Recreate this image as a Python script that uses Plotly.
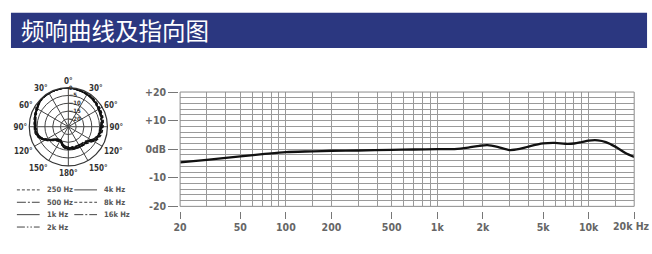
import math
import plotly.graph_objects as go

W, H = 652, 254

# ---------------- data ----------------
title_text = "频响曲线及指向图"

freq_hz = [20, 30, 50, 70, 100, 150, 200, 300, 500, 700, 1000, 1300, 1600, 1900,
           2150, 2500, 3000, 3500, 4000, 5000, 6000, 7000, 8000, 9000, 10000,
           11500, 13000, 15000, 17500, 20000]
response_db = [-4.6, -3.7, -2.5, -1.75, -1.0, -0.75, -0.55, -0.45, -0.25, -0.1, 0.0,
               0.05, 0.55, 1.2, 1.4, 0.8, -0.3, 0.1, 0.9, 2.0, 2.2, 1.9, 2.0, 2.5,
               3.0, 3.1, 2.5, 0.9, -1.3, -2.7]

x_tick_vals = [20, 50, 100, 200, 500, 1000, 2000, 5000, 10000, 20000]
x_tick_text = ["20", "50", "100", "200", "500", "1k", "2k", "5k", "10k", ""]
x_last_label = "20k Hz"
x_minor_vals = [30, 40, 60, 70, 80, 90, 150, 300, 400, 600, 700, 800, 900,
                1500, 3000, 4000, 6000, 7000, 8000, 9000, 15000]
y_tick_vals = [-20, -10, 0, 10, 20]
y_tick_text = ["-20", "-10", "0dB", "+10", "+20"]

polar_angles = [0, 10, 22, 40, 58, 74, 90, 104, 115, 129, 146, 164, 184, 197,
                205, 220, 237, 249, 259, 270, 286, 299, 312, 325, 341, 360]
polar_names = ["250 Hz", "500 Hz", "1k Hz", "2k Hz", "4k Hz", "8k Hz", "16k Hz"]
polar_r_250 = [0, -0.4, -0.6, -0.9, -1.7, -2.3, -3.0, -3.8, -5.2, -8.8, -10.0, -10.4,
               -10.8, -12.0, -13.8, -13.4, -8.8, -5.0, -3.5, -3.3, -2.5, -1.5, -0.4,
               -0.1, -0.2, 0]
polar_r_500 = [0, -0.5, -0.7, -1.1, -2.0, -2.6, -3.4, -4.2, -5.6, -9.1, -10.2, -10.5,
               -11.0, -12.2, -14.1, -13.7, -9.1, -5.2, -3.7, -3.5, -2.7, -1.7, -0.5,
               -0.2, -0.2, 0]
polar_r_1k = [0, -0.5, -0.8, -1.2, -2.2, -2.8, -3.7, -4.4, -5.9, -9.4, -10.3, -10.6,
              -11.1, -12.3, -14.3, -13.9, -9.3, -5.4, -3.9, -3.7, -2.8, -1.8, -0.5,
              -0.2, -0.25, 0]
polar_r_2k = [0, -0.6, -0.9, -1.3, -2.4, -3.0, -3.9, -4.7, -6.2, -9.8, -10.7, -11.0,
              -11.4, -12.7, -14.6, -14.2, -9.7, -5.7, -4.1, -3.9, -3.0, -2.0, -0.7,
              -0.3, -0.3, 0]
polar_r_4k = [0, -0.6, -1.0, -1.5, -2.6, -3.2, -4.1, -5.0, -6.6, -10.2, -11.1, -11.4,
              -11.8, -13.0, -14.9, -14.5, -10.0, -6.0, -4.4, -4.1, -3.2, -2.2, -0.8,
              -0.4, -0.3, 0]
polar_r_8k = [0, -0.3, -0.5, -0.8, -1.5, -2.0, -2.7, -3.4, -4.9, -8.5, -9.8, -10.2,
              -10.6, -11.8, -13.6, -13.2, -8.6, -4.8, -3.3, -3.1, -2.3, -1.3, -0.3,
              -0.1, -0.1, 0]
polar_r_16k = [0, -0.7, -1.1, -1.7, -2.8, -3.5, -4.4, -5.3, -7.0, -10.6, -11.5, -11.8,
               -12.2, -13.4, -15.2, -14.8, -10.4, -6.3, -4.7, -4.4, -3.5, -2.4, -1.0,
               -0.5, -0.4, 0]
polar_series = [polar_r_250, polar_r_500, polar_r_1k, polar_r_2k,
                polar_r_4k, polar_r_8k, polar_r_16k]
polar_dashes = ["3px,2px", "9px,2px,2px,2px", "solid", "8px,2px,1.5px,2px,1.5px,2px",
                "solid", "3px,2px", "9px,2px,2px,2px"]
polar_tick_vals = [0, 30, 60, 90, 120, 150, 180, 210, 240, 270, 300, 330]
polar_tick_text = ["0°", "30°", "60°", "90°", "120°", "150°", "180°",
                   "150°", "120°", "90°", "60°", "30°"]
radial_tick_vals = [-20, -15, -10, -5, 0]

# ---------------- styling ----------------
GRID = "#9a9a9a"
TXT = "#666666"
COND = "Liberation Sans Narrow, DejaVu Sans Condensed, Roboto, sans-serif"

def px_x(p):
    return p / W

def px_y(p):
    return 1 - p / H

fig = go.Figure()

fig.add_trace(go.Scatter(
    x=freq_hz, y=response_db, mode="lines",
    line=dict(color="#111111", width=2.3, shape="spline", smoothing=0.8),
    showlegend=False, hoverinfo="skip"))

for name, r, dash in zip(polar_names, polar_series, polar_dashes):
    fig.add_trace(go.Scatterpolar(
        r=r, theta=polar_angles, mode="lines", name=name,
        line=dict(color="#111111", width=1.1, dash=dash, shape="spline", smoothing=0.8),
        showlegend=False, hoverinfo="skip", subplot="polar"))

# header band
shapes = [dict(type="rect", xref="paper", yref="paper",
               x0=px_x(4), x1=px_x(647), y0=px_y(44), y1=px_y(7),
               fillcolor="#2b3780", line=dict(width=0), layer="below"),
          dict(type="rect", xref="x domain", yref="y domain", x0=0, x1=1, y0=0, y1=1,
               line=dict(color="#8c8c8c", width=1))]

annotations = [dict(text=title_text, xref="paper", yref="paper",
                    x=px_x(12), y=px_y(25.5), xanchor="left", yanchor="middle",
                    showarrow=False,
                    font=dict(family="Noto Sans CJK SC", size=23.5, color="white")),
               # label of the last frequency tick (with unit), kept inside the page
               dict(text=x_last_label, xref="x", yref="paper",
                    x=math.log10(x_tick_vals[-1]), y=px_y(231), xshift=-3,
                    xanchor="center", yanchor="middle", showarrow=False,
                    font=dict(family=COND, size=10.5, color=TXT, weight="bold"))]

# manual two-column legend for the polar patterns
for i, (name, dash) in enumerate(zip(polar_names, polar_dashes)):
    col, row = i // 4, i % 4
    x0 = 10 + 58 * col
    yy = 193 + 13 * row
    shapes.append(dict(type="line", xref="paper", yref="paper",
                       x0=px_x(x0), x1=px_x(x0 + 23), y0=px_y(yy), y1=px_y(yy),
                       line=dict(color="#444444", width=1, dash=dash)))
    annotations.append(dict(text=name, xref="paper", yref="paper",
                            x=px_x(x0 + 28), y=px_y(yy), xanchor="left",
                            yanchor="middle", showarrow=False,
                            font=dict(family=COND, size=7.5, color="#555555",
                                      weight="bold")))

fig.update_layout(
    width=W, height=H, margin=dict(l=0, r=0, t=0, b=0),
    paper_bgcolor="white", plot_bgcolor="white",
    shapes=shapes, annotations=annotations,
    xaxis=dict(type="log", range=[1.30103, 4.30103],
               domain=[px_x(175), px_x(634)], anchor="free", position=px_y(215),
               tickmode="array", tickvals=x_tick_vals, ticktext=x_tick_text,
               ticks="outside", ticklen=7, tickcolor="#777777", tickwidth=1,
               showgrid=True, gridcolor=GRID, gridwidth=1, showline=False,
               zeroline=False,
               tickfont=dict(family=COND, size=10.5, color=TXT, weight="bold"),
               minor=dict(tickmode="array", tickvals=x_minor_vals, showgrid=True,
                          gridcolor=GRID, gridwidth=1, ticks="")),
    yaxis=dict(range=[-20, 20], domain=[px_y(210.3), px_y(90.3)],
               anchor="free", position=px_x(173),
               tickmode="array", tickvals=y_tick_vals, ticktext=y_tick_text,
               ticks="outside", ticklen=10, tickcolor="#777777", tickwidth=1,
               showgrid=True, gridcolor=GRID, gridwidth=1, showline=False,
               zeroline=False,
               tickfont=dict(family=COND, size=10.5, color=TXT, weight="bold"),
               minor=dict(dtick=2, tick0=0, showgrid=True, gridcolor=GRID,
                          gridwidth=1, ticks="")),
    polar=dict(
        domain=dict(x=[px_x(21), px_x(103)], y=[px_y(167.7), px_y(85.7)]),
        bgcolor="white", hole=0,
        angularaxis=dict(rotation=90, direction="clockwise",
                         tickmode="array", tickvals=polar_tick_vals,
                         ticktext=polar_tick_text, ticks="",
                         showline=True, linecolor="#333333", linewidth=1.2,
                         gridcolor="#444444", gridwidth=0.7,
                         tickfont=dict(family=COND, size=8, color="#333333",
                                       weight="bold")),
        radialaxis=dict(range=[-25, 0], tickmode="array", tickvals=radial_tick_vals,
                        angle=90, tickangle=90, ticks="", showline=False,
                        gridcolor="#444444", gridwidth=0.7,
                        tickfont=dict(family=COND, size=6, color="#333333",
                                      weight="bold"))),
)

fig.write_html("out.html")
